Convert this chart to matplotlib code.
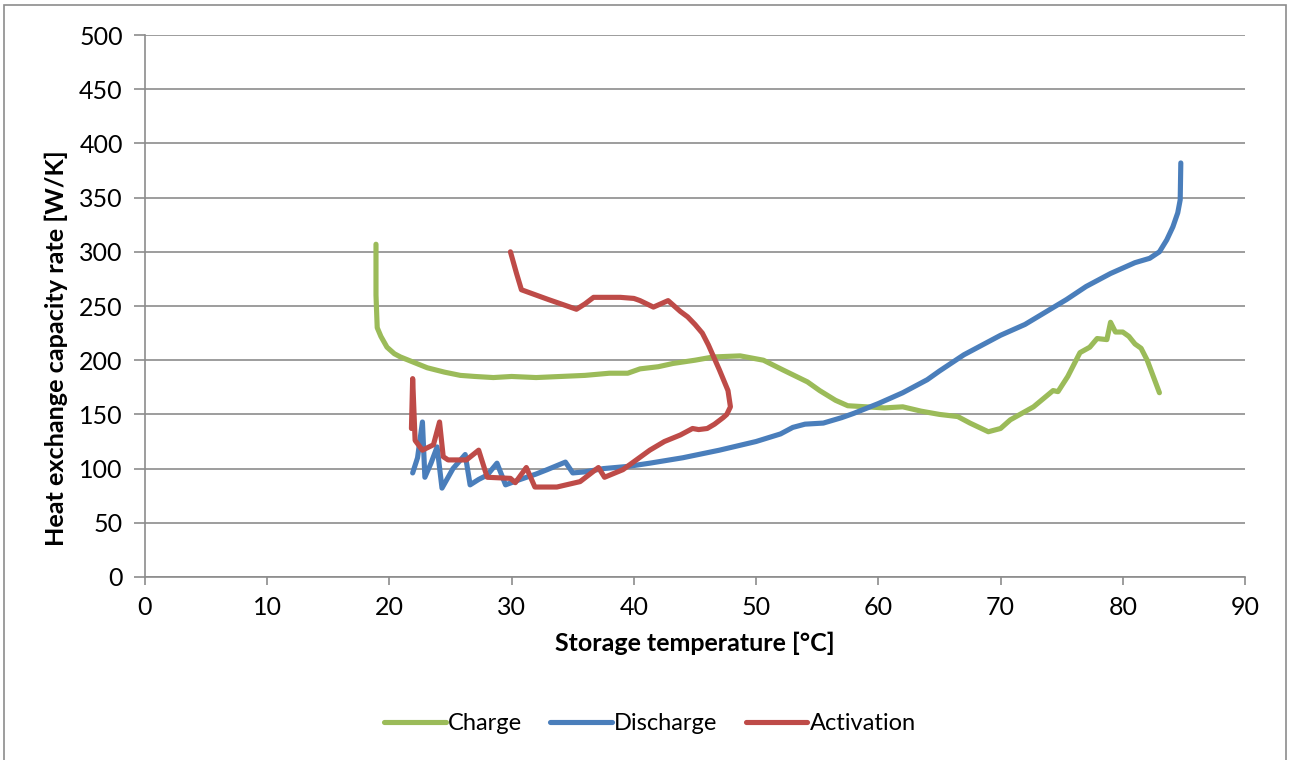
import numpy as np
import matplotlib.pyplot as plt
from matplotlib.patches import Rectangle

plt.rcParams['font.family'] = ['Lato', 'DejaVu Sans']

# Charge (green)
charge_t = [18.9, 18.9, 19.0, 19.3, 19.8, 20.4, 20.9, 22.0, 23.1, 24.5, 25.8, 27.0, 28.5, 30.0, 32.0,
            34.0, 36.0, 38.0, 39.5, 40.5, 42.0, 43.2, 45.0, 46.5, 48.7, 50.6, 52.2, 54.2, 55.2,
            56.5, 57.5, 59.0, 60.5, 62.0, 63.5, 65.0, 66.5, 67.5, 69.0, 70.0, 70.8, 72.7,
            74.3, 74.7, 75.5, 76.5, 77.3, 77.9, 78.7, 79.0, 79.4, 80.0, 80.5, 81.0, 81.5,
            82.0, 82.5, 83.0]
charge_u = [307, 260, 230, 222, 212, 206, 203, 198, 193, 189, 186, 185, 184, 185, 184,
            185, 186, 188, 188, 192, 194, 197, 200, 203, 204, 200, 191, 180, 172,
            163, 158, 157, 156, 157, 153, 150, 148, 142, 134, 137, 145, 157,
            172, 171, 185, 207, 212, 220, 219, 235, 226, 226, 222, 215, 211,
            200, 185, 170]

# Discharge (blue)
discharge_t = [21.9, 22.3, 22.7, 22.9, 23.4, 23.9, 24.3, 25.2, 26.2, 26.6, 27.3, 28.0, 28.8,
               29.5, 30.7, 32.0, 32.9, 34.4, 35.0, 36.0, 37.5, 39.5, 41.3, 44.0, 47.0,
               50.0, 52.0, 53.0, 54.0, 55.5, 57.0, 58.0, 60.0, 62.0, 64.0, 65.0, 67.0, 70.0,
               72.0, 75.4, 77.0, 79.0, 81.0, 82.2, 83.0, 83.6, 84.1, 84.5, 84.7, 84.75]
discharge_u = [96, 110, 143, 92, 105, 120, 82, 100, 113, 85, 90, 94, 105,
               85, 90, 95, 99, 106, 96, 97, 100, 102, 105, 110, 117,
               125, 132, 138, 141, 142, 147, 151, 160, 170, 182, 190, 205, 223,
               233, 256, 268, 280, 290, 294, 300, 311, 323, 336, 348, 382]

# Activation (red)
activation_t = [29.9, 30.4, 30.8, 33.0, 35.3, 36.0, 36.7, 38.9, 40.0, 40.5, 41.6, 42.8, 43.8,
                44.4, 45.0, 45.6, 46.1, 47.0, 47.7, 47.9, 47.6, 47.3, 46.6, 46.0, 45.3,
                44.8, 43.8, 42.5, 41.3, 39.1, 37.6, 37.1, 35.6, 33.7, 31.9, 31.2, 30.3,
                29.9, 28.0, 27.3, 26.3, 24.8, 24.4, 24.1, 23.6, 22.7, 22.1, 21.9, 21.8]
activation_u = [300, 280, 265, 256, 247, 252, 258, 258, 257, 255, 249, 255, 245,
                240, 233, 225, 214, 191, 172, 157, 150, 147, 141, 137, 136,
                137, 131, 125, 117, 99, 92, 101, 88, 83, 83, 101, 87,
                91, 92, 117, 108, 108, 111, 143, 122, 117, 126, 183, 137]

x_ticks = np.arange(0, 91, 10)
y_ticks = np.arange(0, 501, 50)

fig = plt.figure(figsize=(12.9, 7.6), dpi=100)
ax = fig.add_axes([0.1124, 0.2408, 0.8527, 0.7131])
fig.add_artist(Rectangle((0.003, -0.01), 0.994, 1.0035, transform=fig.transFigure,
                         fill=False, edgecolor='#8c8c8c', linewidth=1.2))

ax.plot(charge_t, charge_u, color='#9bbb59', lw=3.7, label='Charge', solid_capstyle='round')
ax.plot(discharge_t, discharge_u, color='#4a7ebb', lw=3.7, label='Discharge', solid_capstyle='round')
ax.plot(activation_t, activation_u, color='#be4b48', lw=3.7, label='Activation', solid_capstyle='round')

ax.set_xlim(0, 90)
ax.set_ylim(0, 500)
ax.set_xticks(x_ticks)
ax.set_yticks(y_ticks)
ax.grid(axis='y', color='#8c8c8c', lw=1.2)
ax.set_axisbelow(True)
for s in ['top', 'right']:
    ax.spines[s].set_visible(False)
for s in ['left', 'bottom']:
    ax.spines[s].set_color('#8c8c8c')
    ax.spines[s].set_linewidth(1.2)
ax.tick_params(axis='both', colors='#8c8c8c', labelcolor='black', labelsize=18, width=1.2)
ax.tick_params(axis='y', length=8, pad=8)
ax.tick_params(axis='x', length=6, pad=8)

ax.set_xlabel('Storage temperature [°C]', fontsize=18, fontweight='bold', labelpad=9)
ax.set_ylabel('Heat exchange capacity rate [W/K]', fontsize=18.2, fontweight='bold')
ax.yaxis.set_label_coords(-0.07, 0.4225)

ax.legend(loc='center', bbox_to_anchor=(0.459, -0.27), ncol=3, frameon=False, fontsize=17,
          handlelength=2.6, handletextpad=0.1, columnspacing=1.2)

fig.savefig('out.png', dpi=100)
